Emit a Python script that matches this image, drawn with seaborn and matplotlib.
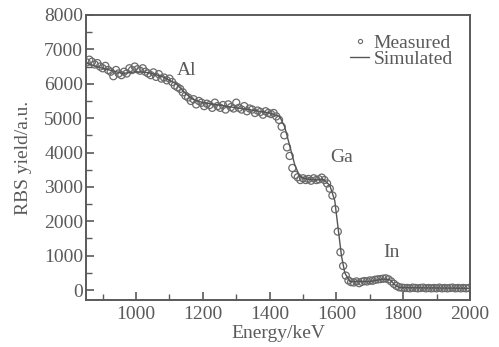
import numpy as np
import pandas as pd
import matplotlib
matplotlib.use("Agg")
import matplotlib.pyplot as plt
import seaborn as sns
from matplotlib.ticker import MultipleLocator
from matplotlib.lines import Line2D

# Measured spectrum (energy channels every 8 keV)
meas_energy = np.arange(852, 2000, 8)
meas_yield = [
    6620, 6700, 6640, 6560, 6600, 6500, 6450, 6520, 6400, 6350,
    6220, 6400, 6300, 6250, 6350, 6300, 6450, 6400, 6500, 6420,
    6380, 6450, 6350, 6300, 6250, 6330, 6200, 6280, 6150, 6180,
    6100, 6150, 6050, 5950, 5900, 5850, 5750, 5650, 5600, 5500,
    5550, 5400, 5500, 5450, 5350, 5420, 5380, 5300, 5450, 5350,
    5300, 5380, 5250, 5400, 5320, 5280, 5450, 5300, 5250, 5350,
    5200, 5280, 5250, 5150, 5220, 5180, 5100, 5200, 5150, 5120,
    5150, 5050, 4950, 4750, 4500, 4150, 3900, 3550, 3350, 3280,
    3200, 3250, 3200, 3230, 3180, 3250, 3200, 3220, 3270, 3200,
    3100, 2950, 2750, 2350, 1700, 1100, 700, 420, 280, 230,
    220, 250, 200, 240, 260, 250, 280, 270, 300, 310,
    320, 330, 340, 310, 250, 180, 120, 80, 70, 60,
    60, 50, 70, 60, 50, 60, 70, 50, 60, 50,
    60, 50, 70, 50, 60, 50, 60, 70, 50, 60,
    50, 60, 50, 60,
]

# Simulated spectrum
sim_energy = [850, 880, 920, 960, 1000, 1040, 1080, 1120, 1150, 1170, 1200, 1250,
              1300, 1350, 1400, 1430, 1445, 1460, 1475, 1490, 1510, 1540, 1560,
              1580, 1595, 1605, 1615, 1625, 1640, 1700, 1740, 1760, 1775, 1790, 2000]
sim_yield = [6600, 6500, 6400, 6300, 6350, 6320, 6200, 6000, 5700, 5550, 5450, 5380,
             5300, 5230, 5150, 5050, 4750, 4200, 3650, 3300, 3230, 3200, 3220,
             3050, 2600, 1800, 1000, 500, 250, 250, 320, 300, 150, 70, 50]

labels = ["Al", "Ga", "In"]
label_x = [1150, 1617, 1766]
label_y = [6400, 3850, 1080]

sns.set_theme(style="white")
plt.rcParams["font.family"] = ["Liberation Serif", "DejaVu Serif"]

grey = "#5a5a5a"
fig = plt.figure(figsize=(4.99, 3.47), dpi=100)
ax = fig.add_axes([0.1723, 0.1354, 0.7696, 0.8214])

meas_df = pd.DataFrame({"E": meas_energy, "Y": meas_yield})
sim_df = pd.DataFrame({"E": sim_energy, "Y": sim_yield})

sns.scatterplot(data=meas_df, x="E", y="Y", ax=ax, marker="o", s=26,
                facecolors="none", edgecolor="#6a6a6a", linewidth=0.9, legend=False)
sns.lineplot(data=sim_df, x="E", y="Y", ax=ax, color="#555555", linewidth=1.0,
             legend=False)

ax.set_xlim(850, 2000)
ax.set_ylim(-290, 8000)
ax.xaxis.set_major_locator(MultipleLocator(200))
ax.xaxis.set_minor_locator(MultipleLocator(100))
ax.yaxis.set_major_locator(MultipleLocator(1000))
ax.yaxis.set_minor_locator(MultipleLocator(500))
ax.tick_params(which="both", direction="in", colors=grey, labelsize=14,
               top=False, right=False, bottom=True, left=True)
ax.tick_params(which="major", length=6, width=1.2)
ax.tick_params(which="minor", length=4, width=1.0)
ax.tick_params(axis="x", pad=4)
ax.tick_params(axis="y", pad=2)
for s in ax.spines.values():
    s.set_color(grey)
    s.set_linewidth(1.4)

ax.set_xlabel("Energy/keV", fontsize=14, color=grey, labelpad=2)
ax.set_ylabel("RBS yield/a.u.", fontsize=14, color=grey, labelpad=9)

for t, x, y in zip(labels, label_x, label_y):
    ax.text(x, y, t, fontsize=14, color=grey, ha="center", va="center")

handles = [
    Line2D([], [], marker="o", linestyle="none", markersize=3,
           markerfacecolor="none", markeredgecolor="#6a6a6a", markeredgewidth=0.8),
    Line2D([], [], color="#555555", linewidth=1.0),
]
ax.legend(handles, ["Measured", "Simulated"], loc="upper right", frameon=False,
          fontsize=14, handlelength=1.0, handletextpad=0.2, labelspacing=-0.1,
          borderaxespad=0.3, labelcolor=grey, bbox_to_anchor=(0.99, 0.98))

fig.savefig("out.png", dpi=100, facecolor="white")
